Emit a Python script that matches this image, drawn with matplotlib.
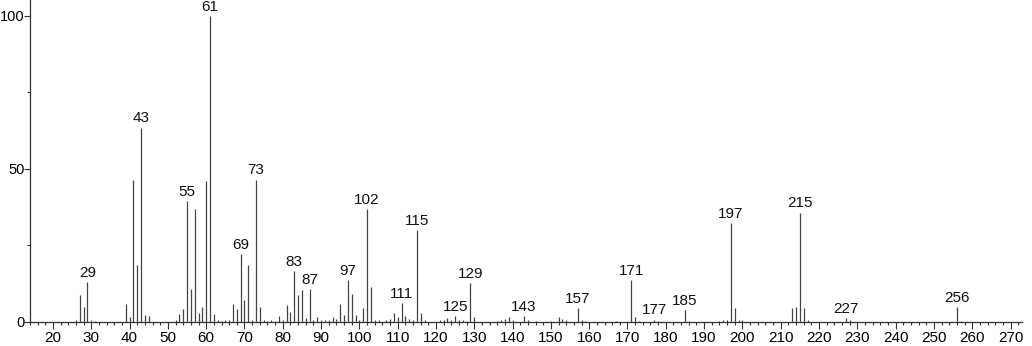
import matplotlib
matplotlib.use("Agg")
import matplotlib.pyplot as plt
from matplotlib.ticker import MultipleLocator

# m/z values and relative intensities
mz = [26, 27, 28, 29, 30, 31, 39, 40, 41, 42, 43, 44, 45,
      52, 53, 54, 55, 56, 57, 58, 59, 60, 61, 62, 63, 64, 65, 66,
      67, 68, 69, 70, 71, 72, 73, 74, 75, 76, 77, 78, 79, 80,
      81, 82, 83, 84, 85, 86, 87, 88, 89, 90, 91, 92, 93, 94,
      95, 96, 97, 98, 99, 100, 101, 102, 103, 104, 105, 107, 108,
      109, 110, 111, 112, 113, 114, 115, 116, 117, 121, 122, 123,
      124, 125, 126, 127, 128, 129, 130, 136, 137, 138, 139, 140,
      143, 144, 146, 150, 152, 153, 154, 157, 158, 159, 167,
      171, 172, 173, 177, 178, 185, 186, 194, 195, 196, 197, 198,
      199, 200, 213, 214, 215, 216, 217, 227, 228, 256, 257]
intensity = [0.5, 8.7, 4.9, 12.9, 0.5, 0.3, 5.8, 1.4, 46.4, 18.4, 63.5, 2.1, 1.8,
             0.6, 2.4, 4.0, 39.6, 10.7, 36.9, 2.9, 4.7, 46.0, 100.0, 2.4, 0.5, 0.3, 0.5, 0.5,
             5.8, 4.0, 22.1, 7.0, 18.4, 0.5, 46.5, 4.7, 0.5, 0.3, 0.5, 0.3, 1.9, 0.5,
             5.5, 3.2, 16.6, 8.6, 10.4, 1.1, 10.6, 0.4, 1.4, 0.4, 0.5, 0.5, 1.4, 0.8,
             5.8, 2.3, 13.6, 9.0, 2.3, 0.5, 4.6, 36.8, 11.3, 0.5, 0.5, 0.5, 1.0,
             2.8, 1.4, 6.0, 2.0, 1.0, 0.5, 30.0, 2.8, 0.5, 0.5, 0.5, 1.1,
             0.5, 2.0, 0.5, 0.5, 0.3, 12.6, 1.4, 0.3, 0.5, 0.8, 1.4, 0.5,
             2.0, 0.5, 0.3, 0.3, 1.4, 0.8, 0.5, 4.6, 0.5, 0.3, 0.3,
             13.6, 1.7, 0.3, 0.7, 0.3, 3.8, 0.3, 0.3, 0.7, 0.5, 32.4, 4.4,
             0.7, 0.5, 4.6, 4.8, 35.7, 4.6, 0.5, 1.3, 0.4, 4.8, 0.3]

labeled = [29, 43, 55, 61, 69, 73, 83, 87, 97, 102, 111, 115, 125, 129,
           143, 157, 171, 177, 185, 197, 215, 227, 256]

plt.rcParams['font.family'] = ['Liberation Sans', 'DejaVu Sans']

fig = plt.figure(figsize=(10.32, 3.46), dpi=100)
ax = fig.add_axes([30 / 1032, 24.3 / 346, 992 / 1032, 321.7 / 346])

ax.vlines(mz, 0, intensity, color='#444444', linewidth=0.9)

lookup = dict(zip(mz, intensity))
for m in labeled:
    ax.annotate(str(m), (m, lookup[m]), xytext=(0, 1.5), textcoords='offset points',
                ha='center', va='bottom', fontsize=11, color='#111111')

ax.set_xlim(14, 273)
ax.set_ylim(0, 105.2)

ax.xaxis.set_major_locator(MultipleLocator(10))
ax.xaxis.set_minor_locator(MultipleLocator(2))
ax.set_xticks(range(20, 271, 10))
ax.set_yticks([0, 50, 100])
ax.yaxis.set_minor_locator(MultipleLocator(25))

for s in ['top', 'right']:
    ax.spines[s].set_visible(False)
for s in ['left', 'bottom']:
    ax.spines[s].set_color('#333333')
    ax.spines[s].set_linewidth(0.9)

ax.tick_params(axis='x', which='major', length=5, width=0.8, color='#333333',
               labelsize=11, pad=1.5)
ax.tick_params(axis='x', which='minor', length=2.5, width=0.8, color='#333333')
ax.tick_params(axis='y', which='major', length=4, width=0.8, color='#333333',
               labelsize=10.5, pad=0)
ax.tick_params(axis='y', which='minor', length=2.5, width=0.8, color='#333333')

fig.savefig('out.png', dpi=100)
